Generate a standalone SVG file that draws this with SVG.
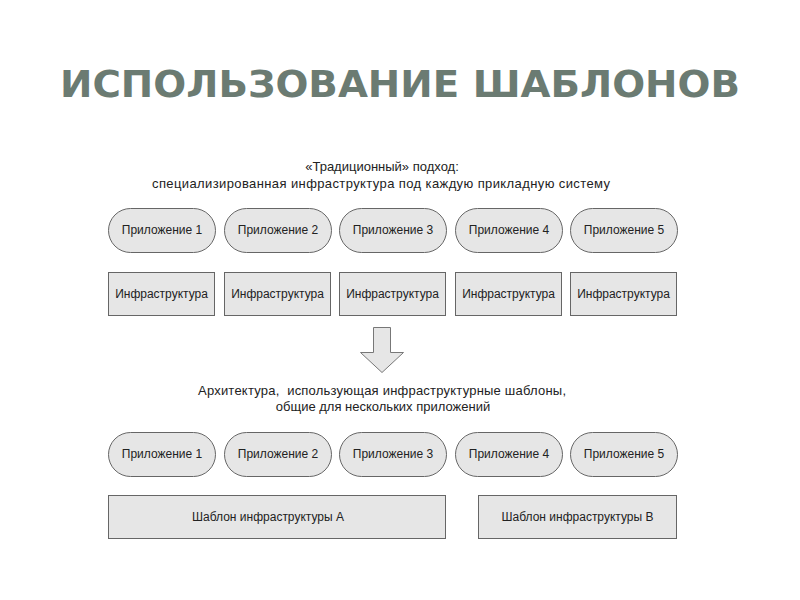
<svg xmlns="http://www.w3.org/2000/svg" width="800" height="600" viewBox="0 0 800 600">
<style>
.title{font-family:"DejaVu Sans",sans-serif;font-weight:bold;font-size:38px;fill:#6b7b72;text-anchor:middle}
.h{font-family:"Liberation Sans",sans-serif;font-size:13px;fill:#222;text-anchor:middle}
.t{font-family:"Liberation Sans",sans-serif;font-size:12px;fill:#222;text-anchor:middle}
.pill{fill:#e6e6e6;stroke:#666;stroke-width:1}
.box{fill:#e6e6e6;stroke:#666;stroke-width:1}
</style>
<rect width="800" height="600" fill="#fff"/>
<text class="title" x="400" y="97" textLength="680" lengthAdjust="spacingAndGlyphs">ИСПОЛЬЗОВАНИЕ ШАБЛОНОВ</text>
<text class="h" x="382" y="171">«Традиционный» подход:</text>
<text class="h" x="381" y="188" textLength="458">специализированная инфраструктура под каждую прикладную систему</text>
<g id="app1a"><rect class="pill" x="108.5" y="208.5" width="107" height="44" rx="22"/><text class="t" x="162" y="234">Приложение 1</text></g>
<g id="app2a"><rect class="pill" x="224.5" y="208.5" width="107" height="44" rx="22"/><text class="t" x="278" y="234">Приложение 2</text></g>
<g id="app3a"><rect class="pill" x="339.5" y="208.5" width="107" height="44" rx="22"/><text class="t" x="393" y="234">Приложение 3</text></g>
<g id="app4a"><rect class="pill" x="455.5" y="208.5" width="107" height="44" rx="22"/><text class="t" x="509" y="234">Приложение 4</text></g>
<g id="app5a"><rect class="pill" x="570.5" y="208.5" width="107" height="44" rx="22"/><text class="t" x="624" y="234">Приложение 5</text></g>
<g id="inf1"><rect class="box" x="108.5" y="272.5" width="106" height="43"/><text class="t" x="161.5" y="298">Инфраструктура</text></g>
<g id="inf2"><rect class="box" x="224.5" y="272.5" width="106" height="43"/><text class="t" x="277.5" y="298">Инфраструктура</text></g>
<g id="inf3"><rect class="box" x="339.5" y="272.5" width="106" height="43"/><text class="t" x="392.5" y="298">Инфраструктура</text></g>
<g id="inf4"><rect class="box" x="455.5" y="272.5" width="106" height="43"/><text class="t" x="508.5" y="298">Инфраструктура</text></g>
<g id="inf5"><rect class="box" x="570.5" y="272.5" width="106" height="43"/><text class="t" x="623.5" y="298">Инфраструктура</text></g>
<g id="connectors">
<polygon points="373.5,327.5 390.5,327.5 390.5,352.5 403.5,352.5 382,372.5 360.5,352.5 373.5,352.5" fill="#e6e6e6" stroke="#777" stroke-width="1"/>
</g>
<text class="h" x="382" y="395" textLength="368" xml:space="preserve">Архитектура,  использующая инфраструктурные шаблоны,</text>
<text class="h" x="383" y="411">общие для нескольких приложений</text>
<g id="app1b"><rect class="pill" x="108.5" y="432.5" width="107" height="44" rx="22"/><text class="t" x="162" y="458">Приложение 1</text></g>
<g id="app2b"><rect class="pill" x="224.5" y="432.5" width="107" height="44" rx="22"/><text class="t" x="278" y="458">Приложение 2</text></g>
<g id="app3b"><rect class="pill" x="339.5" y="432.5" width="107" height="44" rx="22"/><text class="t" x="393" y="458">Приложение 3</text></g>
<g id="app4b"><rect class="pill" x="455.5" y="432.5" width="107" height="44" rx="22"/><text class="t" x="509" y="458">Приложение 4</text></g>
<g id="app5b"><rect class="pill" x="570.5" y="432.5" width="107" height="44" rx="22"/><text class="t" x="624" y="458">Приложение 5</text></g>
<g id="tplA"><rect class="box" x="108.5" y="495.5" width="337" height="43"/><text class="t" x="268" y="521">Шаблон инфраструктуры А</text></g>
<g id="tplB"><rect class="box" x="478.5" y="495.5" width="198" height="43"/><text class="t" x="577.5" y="521">Шаблон инфраструктуры В</text></g>
</svg>
